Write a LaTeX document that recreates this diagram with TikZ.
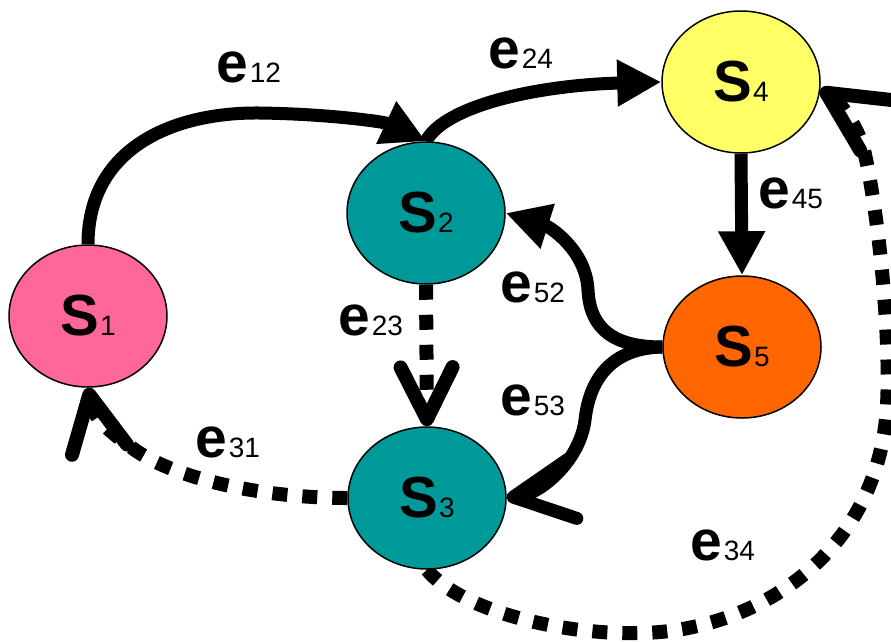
\documentclass[tikz,border=0pt]{standalone}
\usepackage{fontspec}
\setmainfont{Liberation Sans}
\usetikzlibrary{shapes.geometric,arrows.meta}
\pgfdeclarelayer{edges}
\pgfsetlayers{edges,main}

\definecolor{statepink}{HTML}{FF6699}
\definecolor{stateteal}{HTML}{009999}
\definecolor{stateyellow}{HTML}{FFFF66}
\definecolor{stateorange}{HTML}{FF6600}

% state name: bold S with a small index on the baseline
\newcommand\statelabel[1]{{\bfseries S}\kern1pt{\fontsize{28}{30}\selectfont #1}}
% edge name: bold e with a small index
\newcommand\edgelabel[1]{{\bfseries e}\kern2pt{\fontsize{28}{30}\selectfont #1}}

\tikzset{
  state/.style={ellipse, draw=black, line width=1.5pt, minimum width=158pt,
    minimum height=142pt, inner sep=0pt,
    font=\fontsize{58}{60}\selectfont},
  solidedge/.style={line width=13pt},
  dashededge/.style={line width=14pt, dash pattern=on 15pt off 15pt},
  tri/.style={-{Triangle[length=44pt,width=44pt]}},
  vee/.style={-{Straight Barb[length=#1,width=#1,round]}},
  vee/.default=52pt,
  lab/.style={anchor=base west, inner sep=0pt, font=\fontsize{57}{60}\selectfont}
}

\begin{document}
\begin{tikzpicture}[x=1pt,y=-1pt]
\useasboundingbox (0,0) rectangle (891,641);
\clip (0,0) rectangle (891,641);

% states
\node[state, fill=statepink]   (S1) at (88,316)  {\statelabel{1}};
\node[state, fill=stateteal]   (S2) at (426,213) {\statelabel{2}};
\node[state, fill=stateteal]   (S3) at (427,498) {\statelabel{3}};
\node[state, fill=stateyellow] (S4) at (741,82)  {\statelabel{4}};
\node[state, fill=stateorange] (S5) at (742,347) {\statelabel{5}};

% transitions, kept behind the states
\begin{pgfonlayer}{edges}
\draw[solidedge, tri] (S1.north) .. controls (88,150) and (170,112) .. (260,113)
  .. controls (330,114) and (385,122) .. (S2.north);
\draw[solidedge, tri] (S2.north) .. controls (445,105) and (540,85) .. (S4.west);
\draw[solidedge, tri] (S4.south) -- (S5.north);
\draw[solidedge, tri] (S5.west) .. controls (615,347) and (590,330) .. (588,290)
  .. controls (586,250) and (550,227) .. (S2.east);
\draw[solidedge, vee=60pt] (S5.west) .. controls (615,348) and (590,375) .. (585,420)
  .. controls (580,460) and (542,493) .. (S3.east);
\draw[dashededge, vee=52pt] (S2.south) -- (S3.north);
\draw[dashededge, vee=56pt] (S3.west) .. controls (260,498) and (175,478) .. (135,450)
  .. controls (112,433) and (94,420) .. (S1.south);
\draw[dashededge, vee=60pt] (S3.south) .. controls (460,610) and (560,635) .. (640,633)
  .. controls (740,632) and (865,570) .. (885,427)
  .. controls (893,370) and (882,230) .. (864,150)
  .. controls (858,127) and (839,101) .. (S4.-5);
\end{pgfonlayer}

% transition names
\node[lab] (l12) at (216,82)  {\edgelabel{12}};
\node[lab] (l24) at (488,68)  {\edgelabel{24}};
\node[lab] (l45) at (758,208) {\edgelabel{45}};
\node[lab] (l52) at (500,302) {\edgelabel{52}};
\node[lab] (l53) at (500,415) {\edgelabel{53}};
\node[lab] (l23) at (338,335) {\edgelabel{23}};
\node[lab] (l31) at (195,457) {\edgelabel{31}};
\node[lab] (l34) at (690,560) {\edgelabel{34}};
\end{tikzpicture}
\end{document}
